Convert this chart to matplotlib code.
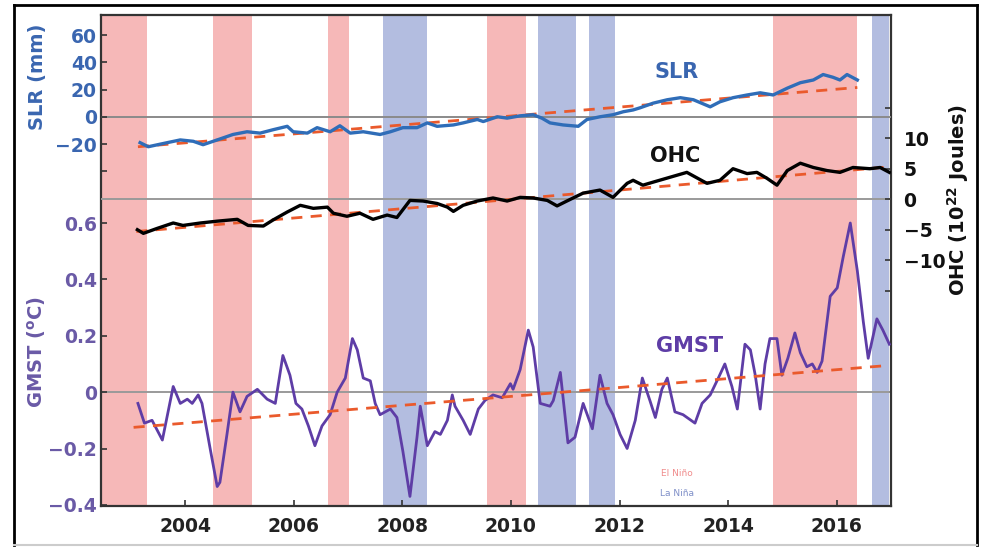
import numpy as np
import matplotlib
matplotlib.use("Agg")
import matplotlib.pyplot as plt
from matplotlib.lines import Line2D

# ENSO episodes (decimal years)
el_nino = [(2002.45, 2003.30), (2004.52, 2005.23), (2006.63, 2007.02),
           (2009.56, 2010.28), (2014.83, 2016.38)]
la_nina = [(2007.65, 2008.46), (2010.50, 2011.20), (2011.44, 2011.92),
           (2016.65, 2016.97)]

# sea level rise (mm)
slr_t = [2003.17, 2003.32, 2003.67, 2003.91, 2004.15, 2004.33, 2004.59, 2004.88,
         2005.14, 2005.38, 2005.62, 2005.88, 2005.99, 2006.25, 2006.43, 2006.67,
         2006.85, 2007.04, 2007.28, 2007.59, 2007.78, 2008.01, 2008.27, 2008.46,
         2008.64, 2008.94, 2009.12, 2009.38, 2009.49, 2009.75, 2009.93, 2010.17,
         2010.41, 2010.57, 2010.72, 2010.96, 2011.24, 2011.40, 2011.64, 2011.88,
         2012.07, 2012.25, 2012.38, 2012.62, 2012.88, 2013.12, 2013.36, 2013.67,
         2013.85, 2014.09, 2014.35, 2014.59, 2014.83, 2015.09, 2015.33, 2015.57,
         2015.75, 2015.93, 2016.06, 2016.19, 2016.38]
slr_v = [-19, -22, -19, -17, -18, -20.5, -17, -13,
         -11, -12, -9.5, -7, -11, -12, -8, -11,
         -6.6, -12, -11, -13, -11, -8, -8, -4.5,
         -7, -6, -4.5, -2, -3.5, 0, -1, 0.7,
         1.5, -1, -4.5, -6, -7, -2, 0, 1.5,
         3.7, 5, 6.6, 10, 12.5, 14, 12.5, 7.3,
         11, 14, 16, 17.6, 16, 21, 25, 27,
         31, 29, 27, 31, 27]
slr_trend_t = [2003.13, 2016.38]
slr_trend_v = [-22, 21.5]

# ocean heat content (10^22 J)
ohc_t = [2003.12, 2003.23, 2003.48, 2003.78, 2003.96, 2004.28, 2004.59, 2004.96,
         2005.16, 2005.44, 2005.62, 2005.88, 2006.12, 2006.36, 2006.62, 2006.73,
         2006.98, 2007.22, 2007.46, 2007.72, 2007.90, 2008.14, 2008.38, 2008.64,
         2008.83, 2008.94, 2009.12, 2009.38, 2009.67, 2009.93, 2010.17, 2010.41,
         2010.67, 2010.85, 2011.03, 2011.33, 2011.64, 2011.88, 2012.14, 2012.25,
         2012.43, 2012.62, 2012.93, 2013.24, 2013.61, 2013.85, 2014.09, 2014.35,
         2014.53, 2014.72, 2014.90, 2015.09, 2015.33, 2015.57, 2015.82, 2016.06,
         2016.30, 2016.61, 2016.80, 2016.97]
ohc_v = [-5, -5.6, -4.8, -3.9, -4.3, -3.9, -3.6, -3.3,
         -4.3, -4.4, -3.4, -2.1, -1, -1.5, -1.3, -2.3,
         -2.8, -2.3, -3.3, -2.6, -3, -0.2, -0.3, -0.7,
         -1.3, -2, -1, -0.3, 0.2, -0.3, 0.3, 0.2,
         -0.2, -1.1, -0.3, 1, 1.5, 0.3, 2.6, 3.1,
         2.3, 2.8, 3.6, 4.4, 2.6, 3.1, 5, 4.2,
         4.4, 3.4, 2.3, 4.7, 5.9, 5.2, 4.7, 4.4,
         5.2, 5, 5.2, 4.4]
ohc_trend_t = [2003.10, 2016.97]
ohc_trend_v = [-5.3, 5.3]

# global mean surface temperature anomaly (deg C)
gmst_t = [2003.13, 2003.25, 2003.39, 2003.58, 2003.78, 2003.91, 2004.04, 2004.13,
          2004.24, 2004.31, 2004.46, 2004.59, 2004.64, 2004.77, 2004.88, 2005.01,
          2005.14, 2005.33, 2005.51, 2005.66, 2005.80, 2005.93, 2006.04, 2006.15,
          2006.27, 2006.39, 2006.52, 2006.67, 2006.80, 2006.95, 2007.08, 2007.17,
          2007.28, 2007.41, 2007.50, 2007.59, 2007.78, 2007.90, 2008.01, 2008.14,
          2008.27, 2008.33, 2008.46, 2008.60, 2008.70, 2008.83, 2008.92, 2008.97,
          2009.12, 2009.25, 2009.40, 2009.52, 2009.67, 2009.84, 2009.99, 2010.04,
          2010.17, 2010.32, 2010.41, 2010.54, 2010.72, 2010.78, 2010.91, 2011.05,
          2011.18, 2011.33, 2011.50, 2011.64, 2011.77, 2011.88, 2012.01, 2012.14,
          2012.29, 2012.42, 2012.56, 2012.66, 2012.78, 2012.88, 2013.02, 2013.17,
          2013.39, 2013.52, 2013.67, 2013.82, 2013.94, 2014.07, 2014.17, 2014.31,
          2014.41, 2014.50, 2014.59, 2014.68, 2014.77, 2014.90, 2014.99, 2015.10,
          2015.23, 2015.33, 2015.45, 2015.55, 2015.64, 2015.73, 2015.88, 2016.01,
          2016.12, 2016.25, 2016.38, 2016.49, 2016.58, 2016.74, 2016.85, 2016.97]
gmst_v = [-0.04, -0.11, -0.10, -0.17, 0.02, -0.04, -0.025, -0.04,
          -0.01, -0.04, -0.20, -0.335, -0.32, -0.15, 0.00, -0.07,
          -0.015, 0.01, -0.025, -0.04, 0.13, 0.06, -0.04, -0.06,
          -0.12, -0.19, -0.12, -0.08, 0.0, 0.05, 0.19, 0.15,
          0.05, 0.04, -0.04, -0.08, -0.06, -0.09, -0.21, -0.37,
          -0.16, -0.05, -0.19, -0.14, -0.15, -0.10, -0.01, -0.05,
          -0.10, -0.15, -0.06, -0.03, -0.01, -0.02, 0.03, 0.01,
          0.08, 0.22, 0.16, -0.04, -0.05, -0.03, 0.07, -0.18,
          -0.16, -0.04, -0.13, 0.06, -0.04, -0.08, -0.15, -0.20,
          -0.10, 0.05, -0.03, -0.09, 0.01, 0.05, -0.07, -0.08,
          -0.11, -0.04, -0.01, 0.05, 0.10, 0.02, -0.06, 0.17,
          0.15, 0.06, -0.06, 0.10, 0.19, 0.19, 0.06, 0.12,
          0.21, 0.14, 0.09, 0.10, 0.07, 0.11, 0.34, 0.37,
          0.48, 0.60, 0.43, 0.25, 0.12, 0.26, 0.22, 0.17]
gmst_trend_t = [2003.05, 2016.97]
gmst_trend_v = [-0.125, 0.095]

year_ticks = [2004, 2006, 2008, 2010, 2012, 2014, 2016]
gmst_ticks = [-0.4, -0.2, 0, 0.2, 0.4, 0.6]
gmst_labels = ['\u22120.4', '\u22120.2', '0', '0.2', '0.4', '0.6']
slr_ticks = [-40, -20, 0, 20, 40, 60]
slr_labels = ['', '\u221220', '0', '20', '40', '60']
ohc_ticks = [-15, -10, -5, 0, 5, 10, 15]
ohc_labels = ['', '\u221210', '\u22125', '0', '5', '10', '']

PINK = '#f6b8b8'
LBLUE = '#b3bde0'
SLR_C = '#2f6db8'
SLR_TXT = '#3a66b0'
GMST_C = '#5e3da6'
GMST_TXT = '#6a5aa6'
TREND_C = '#ea5a2c'
SPINE_C = '#333333'

plt.rcParams['font.family'] = 'DejaVu Sans'

fig = plt.figure(figsize=(9.85, 5.47), dpi=100)
W, H = 985., 547.
pos = [101 / W, 1 - 506 / H, 790 / W, 491 / H]

ax = fig.add_axes(pos)
for a, b in el_nino:
    ax.axvspan(a, b, color=PINK, lw=0, zorder=0)
for a, b in la_nina:
    ax.axvspan(a, b, color=LBLUE, lw=0, zorder=0)
ax.axhline(0, color='#9a9a9a', lw=1.4, zorder=1)
ax.plot(gmst_t, gmst_v, color=GMST_C, lw=2.0, zorder=3)
ax.plot(gmst_trend_t, gmst_trend_v, color=TREND_C, lw=2.0, dashes=(4, 3), zorder=4)
ax.set_xlim(2002.45, 2017.0)
ax.set_ylim(-0.404, 1.338)
ax.set_xticks(year_ticks)
ax.set_xticklabels([str(y) for y in year_ticks])
ax.set_yticks(gmst_ticks)
ax.set_yticklabels(gmst_labels)
ax.tick_params(axis='x', direction='in', length=4, width=1.2, color=SPINE_C,
               pad=8, labelsize=13.5, labelcolor='#222222')
ax.tick_params(axis='y', direction='in', length=4, width=1.2, color=SPINE_C,
               pad=3, labelsize=13.5, labelcolor=GMST_TXT)
for lab in ax.get_xticklabels() + ax.get_yticklabels():
    lab.set_fontweight('bold')
for s in ax.spines.values():
    s.set_linewidth(1.6)
    s.set_color(SPINE_C)

# sea level on a second left scale
ax_s = ax.twinx()
ax_s.yaxis.set_ticks_position('left')
ax_s.axhline(0, color='#8a8a8a', lw=1.4, zorder=1)
ax_s.plot(slr_trend_t, slr_trend_v, color=TREND_C, lw=2.0, dashes=(4, 3), zorder=2)
ax_s.plot(slr_t, slr_v, color=SLR_C, lw=2.4, zorder=3)
ax_s.set_ylim(-285.7, 74.7)
ax_s.set_yticks(slr_ticks)
ax_s.set_yticklabels(slr_labels)
ax_s.tick_params(axis='y', direction='in', length=4, width=1.2, color=SPINE_C,
                 pad=3, labelsize=13.5, labelcolor=SLR_TXT)
for lab in ax_s.get_yticklabels():
    lab.set_fontweight('bold')
for s in ax_s.spines.values():
    s.set_visible(False)

# ocean heat content on the right
ax_o = ax.twinx()
ax_o.axhline(0, color='#9a9a9a', lw=1.4, zorder=1)
ax_o.plot(ohc_trend_t, ohc_trend_v, color=TREND_C, lw=2.0, dashes=(4, 3), zorder=2)
ax_o.plot(ohc_t, ohc_v, color='black', lw=2.4, zorder=3)
ax_o.set_ylim(-50.3, 30.2)
ax_o.set_yticks(ohc_ticks)
ax_o.set_yticklabels(ohc_labels)
ax_o.tick_params(axis='y', direction='in', length=4, width=1.2, color=SPINE_C,
                 pad=9, labelsize=13.5, labelcolor='#111111')
for lab in ax_o.get_yticklabels():
    lab.set_fontweight('bold')
for s in ax_o.spines.values():
    s.set_visible(False)
ax_o.set_xlim(2002.45, 2017.0)

# axis titles
fig.text(37 / W, 1 - 77 / H, 'SLR (mm)', rotation=90, ha='center', va='center',
         fontsize=14, fontweight='bold', color=SLR_TXT)
fig.text(37 / W, 1 - 352 / H, 'GMST ($^{\\mathbf{o}}$C)', rotation=90, ha='center',
         va='center', fontsize=14, fontweight='bold', color=GMST_TXT)
fig.text(958 / W, 1 - 200 / H, 'OHC (10$^{\\mathbf{22}}$ Joules)', rotation=90,
         ha='center', va='center', fontsize=14, fontweight='bold', color='#111111')

# series names
fig.text(677 / W, 1 - 72 / H, 'SLR', ha='center', va='center', fontsize=15,
         fontweight='bold', color=SLR_TXT)
fig.text(675 / W, 1 - 156 / H, 'OHC', ha='center', va='center', fontsize=15,
         fontweight='bold', color='#111111')
fig.text(690 / W, 1 - 346 / H, 'GMST', ha='center', va='center', fontsize=15,
         fontweight='bold', color=GMST_C)
fig.text(677 / W, 1 - 474 / H, 'El Ni\u00f1o', ha='center', va='center',
         fontsize=6.5, color='#f08c8c')
fig.text(677 / W, 1 - 493 / H, 'La Ni\u00f1a', ha='center', va='center',
         fontsize=6.5, color='#7f8fc8')

# outer frame
def fx(px):
    return px / W

def fy(py):
    return 1 - py / H

fig.add_artist(Line2D([fx(14), fx(14)], [fy(5), fy(545)], color='black', lw=2))
fig.add_artist(Line2D([fx(14), fx(977)], [fy(5), fy(5)], color='black', lw=2))
fig.add_artist(Line2D([fx(977), fx(977)], [fy(5), fy(545)], color='black', lw=2))
fig.add_artist(Line2D([fx(14), fx(977)], [fy(545), fy(545)], color='#cccccc', lw=1.5))

fig.savefig('out.png', dpi=100)
